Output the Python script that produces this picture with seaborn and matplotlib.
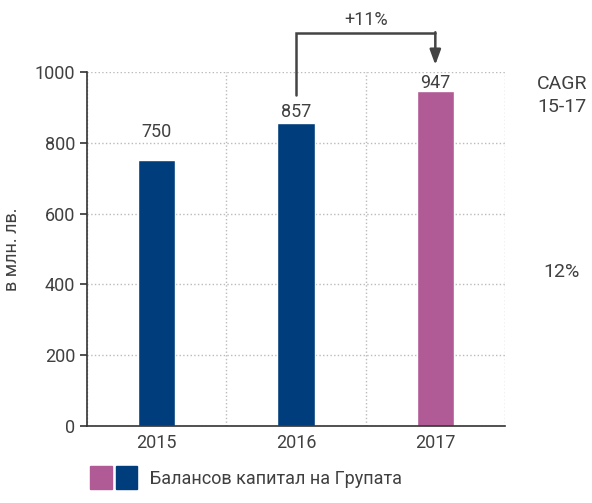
import matplotlib
matplotlib.use('Agg')
import matplotlib.pyplot as plt
import seaborn as sns
from matplotlib.patches import Patch
from matplotlib.legend_handler import HandlerTuple

years = ['2015', '2016', '2017']
values = [750, 857, 947]
colors = ['#003D7C', '#003D7C', '#B05A96']
growth_label = '+11%'
cagr_label = 'CAGR\n15-17'
cagr_value = '12%'
legend_label = 'Балансов капитал на Групата'
ylabel = 'в млн. лв.'

# label baseline gap above each bar (as placed in the original)
label_gap = [66, 16, 8]

sns.set_style('white')
plt.rcParams['font.family'] = ['Roboto', 'DejaVu Sans']
text_color = '#404040'
fs = 13

fig = plt.figure(figsize=(5.92, 5.03), dpi=100)
ax = fig.add_axes([0.147, 0.153, 0.706, 0.704])

sns.barplot(x=years, y=values, hue=years, palette=colors, legend=False,
            width=0.27, saturation=1, ax=ax)

ax.set_ylim(0, 1000)
ax.set_xlim(-0.5, 2.5)
ax.set_yticks(range(0, 1001, 200))
ax.set_xticks([-0.5, 0.5, 1.5, 2.5], minor=True)
ax.tick_params(axis='x', which='major', length=0, labelsize=fs, labelcolor=text_color, pad=6)
ax.tick_params(axis='x', which='minor', length=5, width=1.2, color='#333333', direction='out')
ax.tick_params(axis='y', length=5, width=1.2, color='#333333', labelsize=fs, labelcolor=text_color, left=True)
ax.grid(False)
ax.grid(True, axis='y', which='major', linestyle=':', color='#bbbbbb', linewidth=1)
ax.grid(True, axis='x', which='minor', linestyle=':', color='#bbbbbb', linewidth=1)
ax.set_axisbelow(True)
for s in ['top', 'right']:
    ax.spines[s].set_visible(False)
for s in ['left', 'bottom']:
    ax.spines[s].set_color('#333333')
    ax.spines[s].set_linewidth(1.2)

ax.set_ylabel(ylabel, fontsize=fs, color=text_color, labelpad=10, fontweight='normal')
ax.set_xlabel('')

for i, v in enumerate(values):
    ax.text(i, v + label_gap[i], str(v), ha='center', va='baseline', fontsize=fs, color=text_color)

# growth arrow 2016 -> 2017
ax.plot([1, 1, 2], [935, 1110, 1110], color='#444444', lw=1.8, clip_on=False, solid_joinstyle='miter')
ax.annotate('', xy=(2, 1020), xytext=(2, 1112), xycoords='data',
            arrowprops=dict(arrowstyle='-|>,head_width=0.33,head_length=0.9', color='#444444', lw=1.8,
                            shrinkA=0, shrinkB=0), annotation_clip=False)
ax.text(1.5, 1133, growth_label, ha='center', va='baseline', fontsize=fs, color=text_color)

# CAGR column
ax.text(2.91, 992, cagr_label, ha='center', va='top', fontsize=14, color=text_color,
        linespacing=1.35, clip_on=False)
ax.text(2.905, 435, cagr_value, ha='center', va='center', fontsize=14, color=text_color, clip_on=False)

handles = [(Patch(color=colors[2]), Patch(color=colors[0]))]
fig.legend(handles, [legend_label], handler_map={tuple: HandlerTuple(ndivide=None, pad=0.2)},
           loc='lower left', bbox_to_anchor=(0.125, -0.005), frameon=False, fontsize=fs,
           labelcolor=text_color, handlelength=2.6, handleheight=1.6, handletextpad=0.7)

fig.savefig('out.png', dpi=100)
